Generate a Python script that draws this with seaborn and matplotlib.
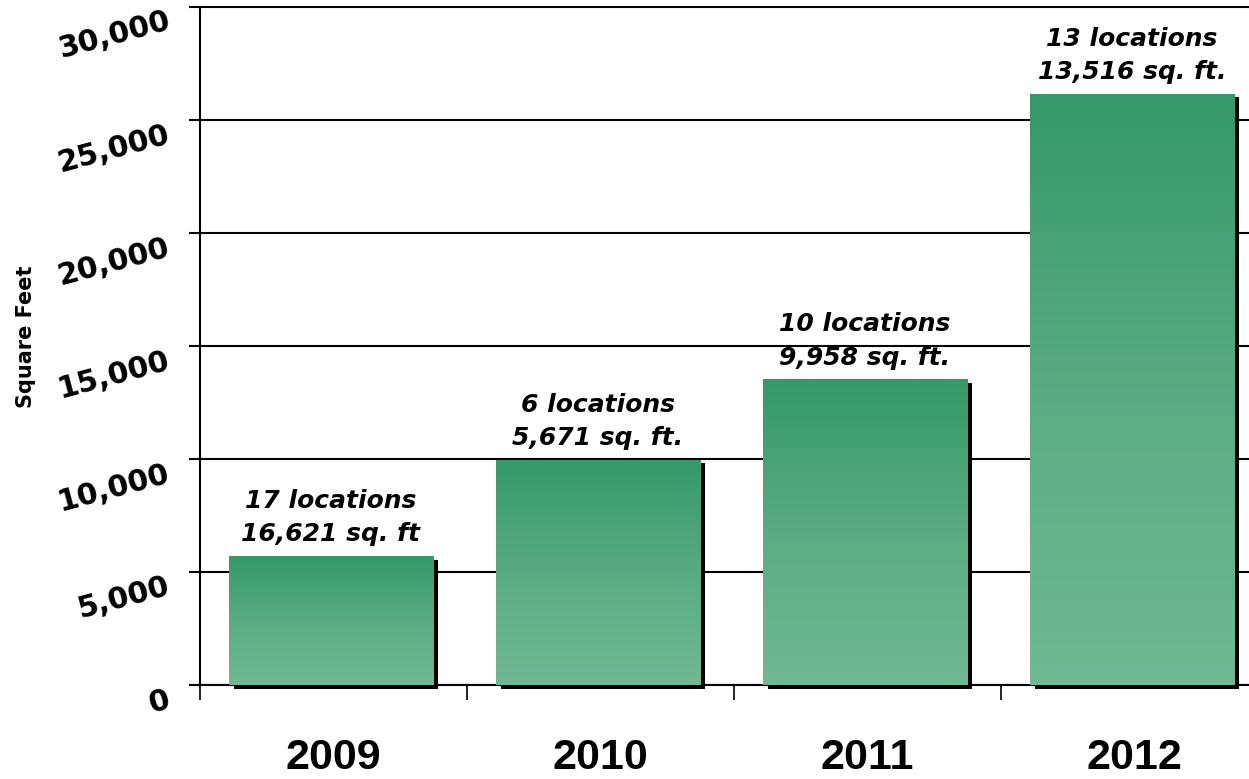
import matplotlib
matplotlib.use("Agg")
import matplotlib.pyplot as plt
import matplotlib.patheffects as pe
import numpy as np
import pandas as pd
import seaborn as sns
from matplotlib.colors import LinearSegmentedColormap

years = ["2009", "2010", "2011", "2012"]
square_feet = [5700, 9958, 13516, 26150]
locations = [17, 6, 10, 13]
label_sqft = ["16,621 sq. ft", "5,671 sq. ft.", "9,958 sq. ft.", "13,516 sq. ft."]
y_ticks = [0, 5000, 10000, 15000, 20000, 25000, 30000]

sns.set_theme(style="white")
plt.rcParams["font.family"] = ["DejaVu Sans"]
plt.rcParams.update({"text.color": "black", "axes.labelcolor": "black",
                     "xtick.color": "black", "ytick.color": "black"})

data = pd.DataFrame({"Year": years, "SquareFeet": square_feet})

fig = plt.figure(figsize=(12.49, 7.79), dpi=100)
ax = fig.add_axes([200 / 1249, 1 - 685 / 779, 1068 / 1249, 685 / 779])

sns.barplot(data=data, x="Year", y="SquareFeet", color="#35996a", saturation=1,
            width=0.765, ax=ax, zorder=3)

# gradient fill + drop shadow on each bar
cmap = LinearSegmentedColormap.from_list("grn", ["#70b994", "#5aab83", "#35996a"])
grad = np.linspace(0, 1, 256).reshape(-1, 1)
for patch in ax.patches:
    patch.set_x(patch.get_x() - 0.008)
    patch.set_clip_on(False)
    patch.set_edgecolor("none")
    patch.set_path_effects([
        pe.SimplePatchShadow(offset=(3.6, -2.6), shadow_rgbFace="black", alpha=1),
        pe.Normal(),
    ])
    x0, y0 = patch.get_x(), patch.get_y()
    w, h = patch.get_width(), patch.get_height()
    im = ax.imshow(grad, cmap=cmap, origin="lower", aspect="auto",
                   extent=(x0, x0 + w, y0, y0 + h), zorder=3.5)
    im.set_clip_path(patch)
ax.set_xlim(-0.5, 3.5)
ax.set_ylim(0, 30300)

# horizontal grid lines
ax.set_yticks(y_ticks)
ax.set_yticklabels([f"{v:,}" for v in y_ticks])
ax.yaxis.grid(True, color="black", linewidth=1.5, zorder=0)
ax.set_axisbelow(True)

for lab in ax.get_yticklabels():
    lab.set_rotation(15)
    lab.set_rotation_mode("anchor")
    lab.set_horizontalalignment("right")
    lab.set_verticalalignment("top")
    lab.set_fontweight("bold")
ax.tick_params(axis="y", which="major", direction="out", length=8, width=1.5,
               pad=17, labelsize=21.5, left=True)

# year labels at centres, tick marks at boundaries
ax.set_xticks(range(len(years)))
ax.set_xticklabels(years, fontsize=31, fontweight="bold", family="Liberation Sans")
ax.set_xticks(np.arange(-0.5, len(years), 1.0), minor=True)
ax.tick_params(axis="x", which="major", length=0, pad=38)
ax.tick_params(axis="x", which="minor", direction="out", length=11, width=1.2,
               bottom=True)

ax.set_xlabel("")
ax.set_ylabel("Square Feet", fontsize=15, fontweight="bold")
ax.yaxis.set_label_coords(-0.154, 0.508)

for side in ["top", "right"]:
    ax.spines[side].set_visible(False)
for side in ["left", "bottom"]:
    ax.spines[side].set_color("black")
    ax.spines[side].set_linewidth(1.5)
ax.spines["left"].set_bounds(0, 30000)

for i, (n, s) in enumerate(zip(locations, label_sqft)):
    ax.annotate(f"{n} locations\n{s}", xy=(i - 0.01, square_feet[i]),
                xytext=(0, 7), textcoords="offset points",
                ha="center", va="bottom", fontsize=18, fontweight="bold",
                fontstyle="italic", linespacing=1.5, zorder=5)

fig.savefig("out.png", dpi=100)
